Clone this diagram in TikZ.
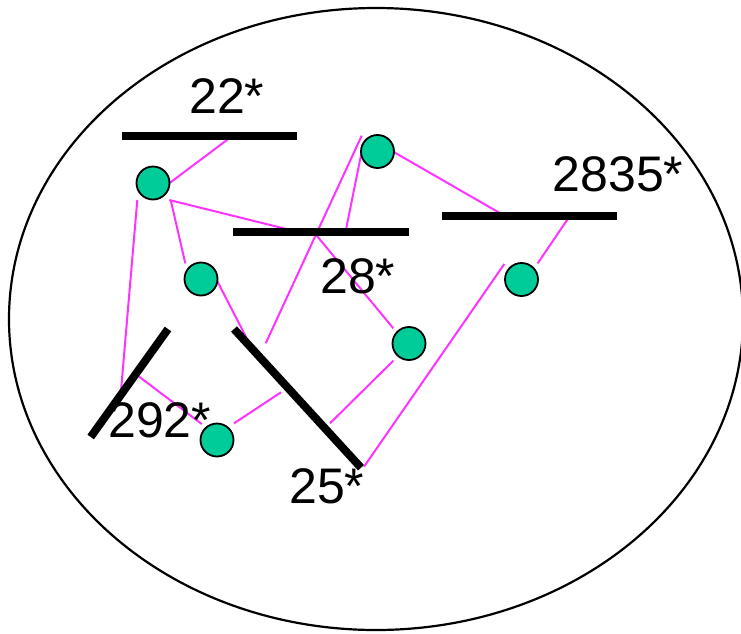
\documentclass[tikz,border=0pt]{standalone}
\usepackage{fontspec}
\setmainfont{Liberation Sans}
\definecolor{dotfill}{RGB}{0,204,153}
\definecolor{linkpink}{RGB}{255,51,255}
\tikzset{
  dot/.style={circle,draw=black,line width=1.8pt,fill=dotfill,minimum size=33pt,inner sep=0pt},
  bar/.style={line width=8pt,line cap=butt},
  link/.style={draw=linkpink,line width=2pt},
  lbl/.style={anchor=base west,inner sep=0pt,font=\fontsize{50}{60}\selectfont}
}
\begin{document}
\begin{tikzpicture}[x=1pt,y=-1pt]
\useasboundingbox (0,0) rectangle (741,633);
\draw[line width=2.2pt] (376,319) ellipse [x radius=367, y radius=311];
% link end points
\coordinate (l1a) at (170,182.7); \coordinate (l1b) at (232.7,135.7);
\coordinate (l2a) at (169.3,200); \coordinate (l2b) at (297.3,231.7);
\coordinate (l3a) at (170.7,200); \coordinate (l3b) at (185.3,263.3);
\coordinate (l4a) at (137.3,200); \coordinate (l4b) at (121,390.7);
\coordinate (l5a) at (216.7,280); \coordinate (l5b) at (249.3,343.3);
\coordinate (l6a) at (361.7,135.7); \coordinate (l6b) at (265.7,343.3);
\coordinate (l7a) at (361.7,151.7); \coordinate (l7b) at (345.7,231);
\coordinate (l8a) at (314.3,232.7); \coordinate (l8b) at (393.3,328.3);
\coordinate (l9a) at (394.3,152.3); \coordinate (l9b) at (505,216);
\coordinate (l10a) at (569.3,216.7); \coordinate (l10b) at (537.7,263.3);
\coordinate (l11a) at (504.3,264); \coordinate (l11b) at (364,466.7);
\coordinate (l12a) at (393.3,360.7); \coordinate (l12b) at (330,423.3);
\coordinate (l13a) at (234,423.3); \coordinate (l13b) at (281,392.3);
\coordinate (l14a) at (138.3,376); \coordinate (l14b) at (201.7,424);
\foreach \i in {1,...,14} {\draw[link] (l\i a) -- (l\i b);}
% bars
\coordinate (b22a) at (121.7,135.7); \coordinate (b22b) at (297,135.7);
\coordinate (b28a) at (233,232); \coordinate (b28b) at (409,232);
\coordinate (b2835a) at (441.7,216); \coordinate (b2835b) at (617,216);
\coordinate (b292a) at (168,329); \coordinate (b292b) at (90.7,437);
\coordinate (b25a) at (234,329); \coordinate (b25b) at (361,467.7);
\draw[bar] (b22a) -- (b22b);
\draw[bar] (b28a) -- (b28b);
\draw[bar] (b2835a) -- (b2835b);
\draw[bar] (b292a) -- (b292b);
\draw[bar] (b25a) -- (b25b);
% dots
\node[dot] (A) at (153,183) {};
\node[dot] (B) at (201,279) {};
\node[dot] (C) at (377.5,151.5) {};
\node[dot] (D) at (521.5,279.5) {};
\node[dot] (E) at (409,343.5) {};
\node[dot] (F) at (217,440) {};
% labels
\node[lbl] (t22) at (189,113.3) {22*};
\node[lbl] (t28) at (320,293) {28*};
\node[lbl] (t2835) at (552.5,191.7) {2835*};
\node[lbl] (t292) at (108,437.7) {292*};
\node[lbl] (t25) at (289,503.3) {25*};
\end{tikzpicture}
\end{document}
